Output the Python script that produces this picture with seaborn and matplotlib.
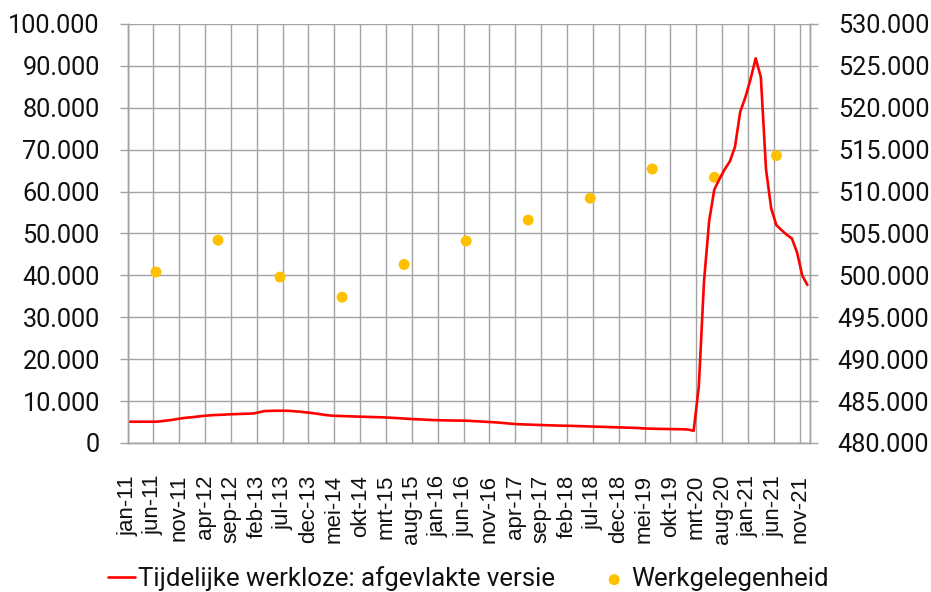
import matplotlib
matplotlib.use("Agg")
import matplotlib.pyplot as plt
from matplotlib.ticker import FuncFormatter, FixedLocator
import seaborn as sns
import pandas as pd

# Dutch month abbreviations and the monthly axis jan-11 .. dec-21
month_names = ["jan", "feb", "mrt", "apr", "mei", "jun",
               "jul", "aug", "sep", "okt", "nov", "dec"]
months = [f"{m}-{y}" for y in range(11, 22) for m in month_names]

# Temporary unemployed, smoothed series (left axis)
temp_unemployed = [
    5080, 5080, 5080, 5090, 5080, 5080, 5200, 5350, 5500, 5700, 5900, 6050,
    6150, 6300, 6450, 6550, 6650, 6700, 6750, 6830, 6880, 6920, 6960, 7000,
    7080, 7350, 7620, 7660, 7700, 7710, 7700, 7650, 7550, 7450, 7320, 7180,
    7000, 6820, 6650, 6520, 6480, 6430, 6390, 6340, 6290, 6260, 6230, 6190,
    6150, 6120, 6060, 5990, 5910, 5830, 5760, 5680, 5640, 5570, 5500, 5460,
    5420, 5390, 5370, 5350, 5340, 5320, 5260, 5190, 5120, 5050, 4970, 4900,
    4800, 4680, 4570, 4490, 4450, 4400, 4350, 4300, 4260, 4220, 4180, 4150,
    4130, 4100, 4060, 4020, 3980, 3940, 3900, 3860, 3820, 3780, 3750, 3720,
    3680, 3640, 3590, 3510, 3440, 3400, 3380, 3350, 3330, 3310, 3290, 3270,
    3200, 2900, 13500, 38500, 53000, 60500, 63000, 65300, 67200, 70700, 79000, 82500,
    86800, 91800, 87300, 65300, 56000, 52000, 50800, 49700, 48800, 45500, 40000, 37700,
]

# Employment, yearly observations (right axis)
employment_months = ["jun-11", "jun-12", "jun-13", "jun-14", "jun-15", "jun-16",
                     "jun-17", "jun-18", "jun-19", "jun-20", "jun-21"]
employment = [500400, 504200, 499800, 497400, 501300, 504100,
              506600, 509200, 512700, 511700, 514300]

tick_labels = months[::5]

line_df = pd.DataFrame({"pos": range(len(months)), "value": temp_unemployed})
dot_df = pd.DataFrame({"pos": [months.index(m) for m in employment_months],
                       "value": employment})

sns.set_style("white")
plt.rcParams["font.family"] = ["Roboto", "DejaVu Sans"]

GRID = "#a3a3a3"
RED = "#ff0000"
GOLD = "#ffc000"
TEXT = "#111111"

fig = plt.figure(figsize=(9.31, 5.92), dpi=100)
ax = fig.add_axes([0.137, 0.2517, 0.733, 0.7078])   # right-hand scale, grid
ax2 = ax.twinx()                                     # left-hand scale, line

sns.scatterplot(data=dot_df, x="pos", y="value", ax=ax, color=GOLD, s=62,
                edgecolor="none", zorder=3, label="Werkgelegenheid", legend=False)
sns.lineplot(data=line_df, x="pos", y="value", ax=ax2, color=RED, linewidth=1.9,
             label="Tijdelijke werkloze: afgevlakte versie", legend=False)

fmt = FuncFormatter(lambda v, p: f"{int(round(v)):,}".replace(",", "."))

ax.set_xlim(-0.5, len(months) - 0.5)
ax.set_ylim(480000, 530000)
ax.set_yticks(range(480000, 530001, 5000))
ax.yaxis.set_major_formatter(fmt)
ax.yaxis.tick_right()

ax2.set_ylim(0, 100000)
ax2.set_yticks(range(0, 100001, 10000))
ax2.yaxis.set_major_formatter(fmt)
ax2.yaxis.tick_left()

tick_pos = [i * 5 - 0.5 for i in range(len(tick_labels))] + [len(months) - 0.5]
ax.xaxis.set_major_locator(FixedLocator(tick_pos))
ax.set_xticklabels(tick_labels + [""], rotation=90, ha="center", va="top")

ax.grid(True, color=GRID, linewidth=1.0)
ax2.grid(False)
for a in (ax, ax2):
    a.set_xlabel("")
    a.set_ylabel("")
    for s in a.spines.values():
        s.set_color(GRID)
        s.set_linewidth(1.0)
    a.tick_params(axis="both", length=6, width=1.0, color=GRID,
                  labelcolor=TEXT)
    a.spines["top"].set_visible(False)
ax.tick_params(axis="y", labelsize=18.2, pad=14)
ax2.tick_params(axis="y", labelsize=18.2, pad=14)
ax.tick_params(axis="x", pad=17)
for lbl in ax.get_xticklabels():
    lbl.set_fontfamily(["Liberation Sans", "DejaVu Sans"])
    lbl.set_fontsize(16)

h1, l1 = ax2.get_legend_handles_labels()
h2, l2 = ax.get_legend_handles_labels()
fig.legend(h1 + h2, l1 + l2, loc="center", bbox_to_anchor=(0.503, 0.022),
           ncol=2, frameon=False, fontsize=18.6, handlelength=1.05,
           handletextpad=0.12, columnspacing=1.75, borderaxespad=0,
           labelcolor=TEXT)

fig.savefig("out.png", dpi=100, facecolor="white")
